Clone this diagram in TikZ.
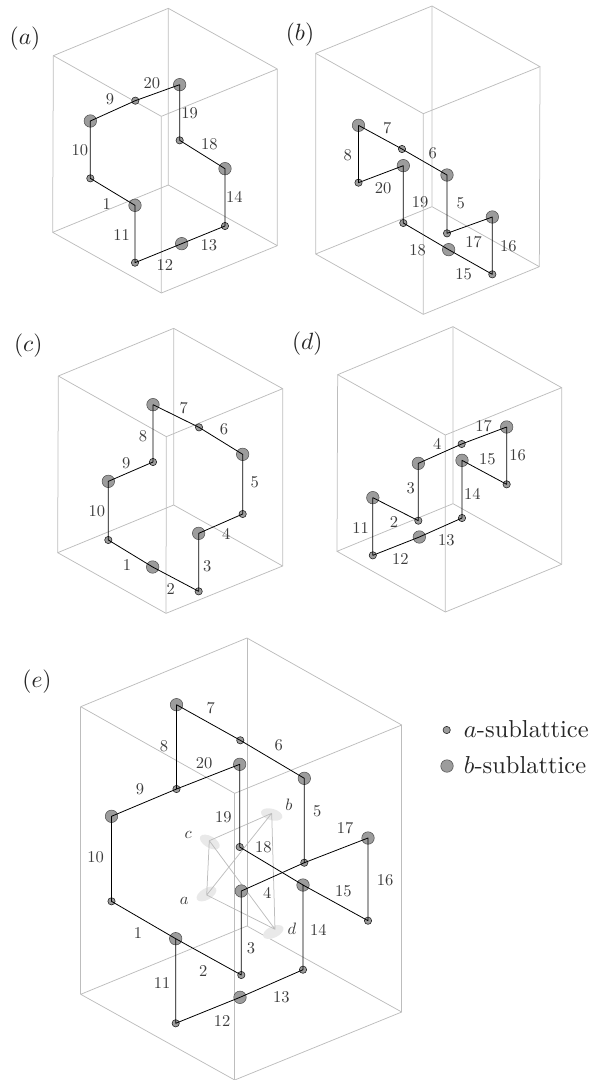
\documentclass[tikz,border=0pt]{standalone}
\usetikzlibrary{shapes.geometric}
\definecolor{boxgray}{HTML}{BDBDBD}
\definecolor{sitegray}{HTML}{9C9C9C}
\definecolor{txtgray}{HTML}{3C3C3C}
\definecolor{blobgray}{HTML}{E9E9E9}
\tikzset{
  boxline/.style={draw=boxgray,line width=0.75pt,line join=round},
  bond/.style={draw=black,line width=0.8pt,line join=round},
  bigsite/.style={circle,draw=black!70,fill=sitegray,line width=0.5pt,inner sep=0pt,minimum size=12.5pt},
  smallsite/.style={circle,draw=black!85,fill=sitegray,line width=0.6pt,inner sep=0pt,minimum size=7.3pt},
  numlabel/.style={inner sep=0pt,text=txtgray,scale=1.65,transform shape},
  panellabel/.style={inner sep=0pt,text=black!85,scale=2.35,transform shape},
  siteletter/.style={inner sep=0pt,text=txtgray,scale=1.65,transform shape},
  legendtext/.style={inner sep=0pt,anchor=base west,text=black!85,scale=2.45,transform shape},
  tetra/.style={draw=boxgray,line width=0.75pt,line join=round},
  blob/.style={ellipse,fill=blobgray,inner sep=0pt,minimum width=22pt,minimum height=11.5pt},
  zoomcoords/.style={x=0.33333pt,y=-0.33333pt},
  pixcoords/.style={x=1pt,y=-1pt}
}
\newcommand\bigat[2]{\node[bigsite] (#1) at (#2) {};}
\newcommand\smallat[2]{\node[smallsite] (#1) at (#2) {};}
\newcommand\numat[3]{\node[numlabel] (#1-n#3) at (#2) {#3};}
\begin{document}
\begin{tikzpicture}
\useasboundingbox (0pt,0pt) rectangle (589pt,-1080pt);
% ---------- (a)
\begin{scope}[zoomcoords]
  \draw[boxline] (505,25) -- (160,167) -- (484,349) -- (832,207) -- cycle;
  \draw[boxline] (505,555) -- (158,697) -- (484,879) -- (832,737) -- cycle;
  \draw[boxline] (505,25) -- (505,555) (160,167) -- (158,697) (484,349) -- (484,879) (832,207) -- (832,737);
  \bigat{a1}{539,254}\smallat{a2}{406,302}\bigat{a3}{271,363}\smallat{a4}{271,535}
  \bigat{a5}{405,616}\smallat{a6}{405,788}\bigat{a7}{545,731}\smallat{a8}{675,678}
  \bigat{a9}{675,506}\smallat{a10}{539,421}
  \draw[bond] (a1.center) -- (a2.center) -- (a3.center) -- (a4.center) -- (a5.center) -- (a6.center)
    -- (a7.center) -- (a8.center) -- (a9.center) -- (a10.center) -- (a1.center);
  \numat{a}{456,249}{20}\numat{a}{330,298}{9}\numat{a}{569,339}{19}\numat{a}{628,434}{18}
  \numat{a}{240,451}{10}\numat{a}{703,592}{14}\numat{a}{320,611}{1}\numat{a}{365,705}{11}
  \numat{a}{627,735}{13}\numat{a}{495,795}{12}
  \node[panellabel] (la) at (75,115) {$(a)$};
\end{scope}
% ---------- (b)
\begin{scope}[shift={(295pt,0pt)},zoomcoords]
  \draw[boxline] (411,18) -- (62,160) -- (385,341) -- (735,200) -- cycle;
  \draw[boxline] (411,620) -- (62,762) -- (385,943) -- (733,800) -- cycle;
  \draw[boxline] (411,18) -- (411,620) (62,160) -- (62,762) (385,341) -- (385,943) (735,200) -- (733,800);
  \bigat{b1}{190.5,376}\smallat{b2}{321,447}\bigat{b3}{456,525}\smallat{b4}{456,700}
  \bigat{b5}{592,651}\smallat{b6}{592,823}\bigat{b7}{461,749}\smallat{b8}{325,669}
  \bigat{b9}{325,497}\smallat{b10}{190.5,548}
  \draw[bond] (b1.center) -- (b2.center) -- (b3.center) -- (b4.center) -- (b5.center) -- (b6.center)
    -- (b7.center) -- (b8.center) -- (b9.center) -- (b10.center) -- (b1.center);
  \numat{b}{277,384}{7}\numat{b}{413,461}{6}\numat{b}{158,465}{8}\numat{b}{264,565}{20}
  \numat{b}{375,608}{19}\numat{b}{497,611}{5}\numat{b}{536,726}{17}\numat{b}{640,738}{16}
  \numat{b}{368,750}{18}\numat{b}{506,824}{15}
  \node[panellabel] (lb) at (15,103) {$(b)$};
\end{scope}
% ---------- (c)
\begin{scope}[shift={(0pt,-310pt)},zoomcoords]
  \draw[boxline] (521,55) -- (175,198) -- (499,380) -- (848,236) -- cycle;
  \draw[boxline] (521,585) -- (173,728) -- (498,910) -- (848,768) -- cycle;
  \draw[boxline] (521,55) -- (521,585) (175,198) -- (173,728) (499,380) -- (498,910) (848,236) -- (848,768);
  \bigat{c1}{459,284}\smallat{c2}{597,352}\bigat{c3}{728,433}\smallat{c4}{728,612}
  \bigat{c5}{596,670}\smallat{c6}{596,844}\bigat{c7}{458,771}\smallat{c8}{325,690}
  \bigat{c9}{325,514}\smallat{c10}{459,456}
  \draw[bond] (c1.center) -- (c2.center) -- (c3.center) -- (c4.center) -- (c5.center) -- (c6.center)
    -- (c7.center) -- (c8.center) -- (c9.center) -- (c10.center) -- (c1.center);
  \numat{c}{551,293}{7}\numat{c}{672,359}{6}\numat{c}{429,380}{8}\numat{c}{379,460}{9}
  \numat{c}{764,518}{5}\numat{c}{291,605}{10}\numat{c}{679,672}{4}\numat{c}{622,770}{3}
  \numat{c}{381,764}{1}\numat{c}{512,836}{2}
  \node[panellabel] (lc) at (85,106) {$(c)$};
\end{scope}
% ---------- (d)
\begin{scope}[shift={(295pt,-310pt)},zoomcoords]
  \draw[boxline] (474,50) -- (128,194) -- (451,375) -- (800,233) -- cycle;
  \draw[boxline] (474,581) -- (126,724) -- (451,906) -- (800,763) -- cycle;
  \draw[boxline] (474,50) -- (474,581) (128,194) -- (126,724) (451,375) -- (451,906) (800,233) -- (800,763);
  \bigat{d1}{635,351}\smallat{d2}{500,402}\bigat{d3}{370,460}\smallat{d4}{370,632}
  \bigat{d5}{233.5,563}\smallat{d6}{233.5,736}\bigat{d7}{373,681}\smallat{d8}{501,624}
  \bigat{d9}{501,451}\smallat{d10}{635,523}
  \draw[bond] (d1.center) -- (d2.center) -- (d3.center) -- (d4.center) -- (d5.center) -- (d6.center)
    -- (d7.center) -- (d8.center) -- (d9.center) -- (d10.center) -- (d1.center);
  \numat{d}{566,347}{17}\numat{d}{427,402}{4}\numat{d}{577,447}{15}\numat{d}{668,437}{16}
  \numat{d}{347,536}{3}\numat{d}{532,551}{14}\numat{d}{297,635}{2}\numat{d}{197,653}{11}
  \numat{d}{454,692}{13}\numat{d}{316,746}{12}
  \node[panellabel] (ld) at (37,100) {$(d)$};
\end{scope}
% ---------- (e)
\begin{scope}[pixcoords]
  \draw[boxline] (247,638) -- (80.7,706.7) -- (234.7,793.3) -- (401.7,725) -- cycle;
  \draw[boxline] (247,926) -- (80.7,994.3) -- (234.7,1080) -- (401.7,1012) -- cycle;
  \draw[boxline] (247,638) -- (247,926) (80.7,706.7) -- (80.7,994.3) (234.7,793.3) -- (234.7,1080) (401.7,725) -- (401.7,1012);
  % tetrahedron
  \node[blob,rotate=30] (ta) at (206.5,894) {};
  \node[blob,rotate=-15] (tb) at (271.7,814.5) {};
  \node[blob,rotate=-30] (tc) at (209.8,842) {};
  \node[blob,rotate=25] (td) at (273.3,932) {};
  \coordinate (pa) at (206.7,895);
  \coordinate (pb) at (271.7,813.3);
  \coordinate (pc) at (209.3,840.7);
  \coordinate (pd) at (275,929.3);
  \draw[tetra] (pa) -- (pc) -- (pb) -- (pa) -- (pd) -- (pc) (pb) -- (pd);
  \bigat{e1}{176.5,704.7}\smallat{e2}{240.3,740.3}\bigat{e3}{304.3,778.3}\smallat{e4}{304.3,862.7}
  \bigat{e5}{368,838}\smallat{e6}{368,920.7}\bigat{e7}{303,885}\smallat{e8}{303,969.7}
  \bigat{e9}{240,997.3}\smallat{e10}{175.7,1023.3}\bigat{e11}{175.7,938.7}\smallat{e12}{111.5,901.3}
  \bigat{e13}{111.5,816.3}\smallat{e14}{176.5,789}\bigat{e15}{239.7,764.3}\smallat{e16}{239.7,847}
  \bigat{e17}{241.3,891}\smallat{e18}{241.3,975}
  \draw[bond] (e1.center) -- (e2.center) -- (e3.center) -- (e4.center) -- (e5.center) -- (e6.center)
    -- (e7.center) -- (e8.center) -- (e9.center) -- (e10.center) -- (e11.center) -- (e12.center)
    -- (e13.center) -- (e14.center) -- (e1.center);
  \draw[bond] (e14.center) -- (e15.center) -- (e16.center) -- (e7.center);
  \draw[bond] (e4.center) -- (e17.center) -- (e18.center) -- (e11.center);
  \numat{e}{210.7,707.7}{7}\numat{e}{278.7,744.7}{6}\numat{e}{164,745.7}{8}\numat{e}{204,763.3}{20}
  \numat{e}{140,788.7}{9}\numat{e}{223.3,816.7}{19}\numat{e}{317.3,810.7}{5}\numat{e}{345,827.7}{17}
  \numat{e}{263.3,847}{18}\numat{e}{95.7,856.7}{10}\numat{e}{267.3,892.7}{4}\numat{e}{343.3,890.7}{15}
  \numat{e}{385,880}{16}\numat{e}{318.3,929.7}{14}\numat{e}{138,932.7}{1}\numat{e}{251,947.7}{3}
  \numat{e}{203.3,971}{2}\numat{e}{162,982.7}{11}\numat{e}{281.3,997.3}{13}\numat{e}{222,1020.7}{12}
  \node[siteletter] (la2) at (184.3,900.7) {$a$};
  \node[siteletter] (lb2) at (289,805) {$b$};
  \node[siteletter] (lc2) at (188.3,835) {$c$};
  \node[siteletter] (ld2) at (292,928.3) {$d$};
  \node[panellabel] (le) at (37,682) {$(e)$};
  % legend
  \smallat{k1}{446.7,730}
  \bigat{k2}{447,766}
  \node[legendtext] (k1t) at (463.5,737.5) {$a$-sublattice};
  \node[legendtext] (k2t) at (463.5,773.5) {$b$-sublattice};
\end{scope}
\end{tikzpicture}
\end{document}
